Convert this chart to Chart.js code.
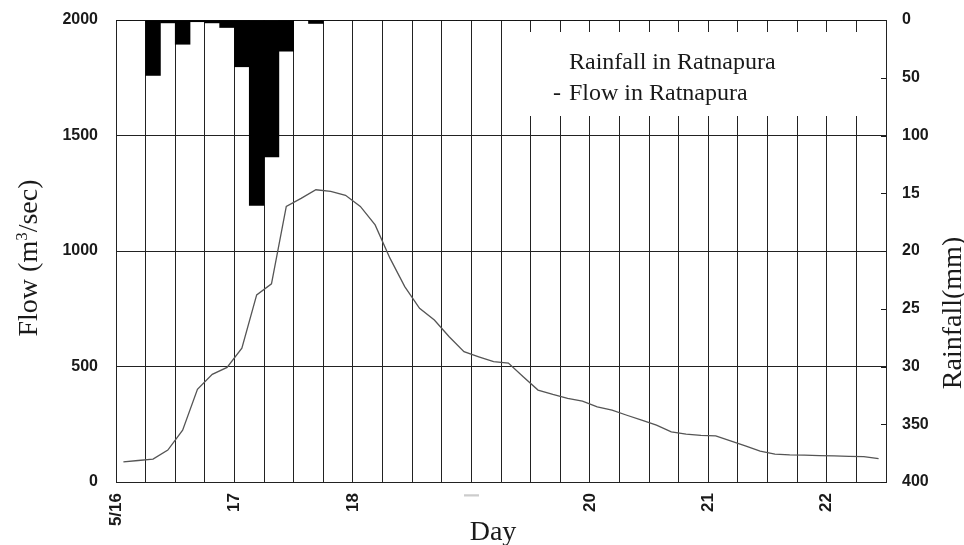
<!DOCTYPE html>
<html>

<head>
  <meta charset="UTF-8">
  <script src="https://cdn.jsdelivr.net/npm/chart.js"></script>
  <style>
    body { margin: 0; background: #fff; }
  </style>
</head>

<body>
  <canvas id="myChart" width="964" height="545"></canvas>
  <script>
    // hours after 5/16 00:00, one reading every 3 hours (centre of the interval)
    const hours = [1.5, 4.5, 7.5, 10.5, 13.5, 16.5, 19.5, 22.5, 25.5, 28.5, 31.5, 34.5, 37.5,
      40.5, 43.5, 46.5, 49.5, 52.5, 55.5, 58.5, 61.5, 64.5, 67.5, 70.5, 73.5, 76.5, 79.5,
      82.5, 85.5, 88.5, 91.5, 94.5, 97.5, 100.5, 103.5, 106.5, 109.5, 112.5, 115.5, 118.5,
      121.5, 124.5, 127.5, 130.5, 133.5, 136.5, 139.5, 142.5, 145.5, 148.5, 151.5, 154.5];
    // flow in Ratnapura (m3/sec)
    const flow = [87, 93, 99, 138, 224, 401, 466, 496, 579, 810, 858, 1193, 1228,
      1265, 1258, 1241, 1193, 1113, 969, 846, 752, 701, 629, 564, 542, 521, 515,
      456, 398, 379, 362, 350, 325, 311, 289, 268, 246, 217, 207, 202,
      200, 178, 156, 134, 121, 117, 116, 114, 113, 111, 110, 101];
    // rainfall in Ratnapura (mm per 3 hours)
    const rain = [0, 0, 48, 2.5, 21, 1.5, 2.5, 6.5, 40.5, 160.5, 118.5, 27, 0,
      3, 0, 0, 0, 0, 0, 0, 0, 0, 0, 0, 0, 0, 0,
      0, 0, 0, 0, 0, 0, 0, 0, 0, 0, 0, 0, 0,
      0, 0, 0, 0, 0, 0, 0, 0, 0, 0, 0, 0];
    const dayLabels = ['5/16', '17', '18', '|', '20', '21', '22'];
    const legendLabels = ['Rainfall in Ratnapura', 'Flow in Ratnapura'];

    const serif = '"Liberation Serif", "DejaVu Serif", serif';
    const sans = '"Liberation Sans", Arial, sans-serif';
    const ink = '#1a1a1a';

    // keep the plot area fixed: no extra room for the first/last tick label
    const noPad = s => { s.paddingTop = 0; s.paddingBottom = 0; };

    const extras = {
      id: 'extras',
      beforeDatasetsDraw(chart) {
        const ctx = chart.ctx;
        ctx.save();
        // legend box without border, hides the grid lines
        ctx.fillStyle = '#fff';
        ctx.fillRect(502, 32, 380, 84);
        ctx.fillStyle = ink;
        ctx.font = '24px ' + serif;
        ctx.textBaseline = 'alphabetic';
        ctx.fillText(legendLabels[0], 569, 69);
        ctx.fillText('-', 553, 100);
        ctx.fillText(legendLabels[1], 569, 100);
        ctx.restore();
      },
      afterDraw(chart) {
        const ctx = chart.ctx;
        const area = chart.chartArea;
        const r = chart.scales.y1;
        ctx.save();
        // short inward ticks on the rainfall axis
        ctx.strokeStyle = ink;
        ctx.lineWidth = 1;
        r.ticks.forEach(t => {
          const y = Math.round(r.getPixelForValue(t.value)) + 0.5;
          ctx.beginPath();
          ctx.moveTo(area.right - 5, y);
          ctx.lineTo(area.right, y);
          ctx.stroke();
        });

        // right title sits on a white box that clips the tick labels
        ctx.fillStyle = '#fff';
        ctx.fillRect(919, 160, 45, 240);
        ctx.fillStyle = ink;
        ctx.font = '28px ' + serif;
        ctx.textAlign = 'center';
        ctx.textBaseline = 'alphabetic';
        ctx.save();
        ctx.translate(961, 313);
        ctx.rotate(-Math.PI / 2);
        ctx.fillText('Rainfall(mm)', 0, 0);
        ctx.restore();

        // x title
        ctx.fillText('Day', 493, 540);

        // left title with superscript 3
        const a = 'Flow (m', b = '3', c = '/sec)';
        ctx.font = '28px ' + serif;
        const wa = ctx.measureText(a).width, wc = ctx.measureText(c).width;
        ctx.font = '17px ' + serif;
        const wb = ctx.measureText(b).width;
        const total = wa + wb + wc;
        ctx.save();
        ctx.translate(37, 258);
        ctx.rotate(-Math.PI / 2);
        ctx.textAlign = 'left';
        ctx.font = '28px ' + serif;
        ctx.fillText(a, -total / 2, 0);
        ctx.font = '17px ' + serif;
        ctx.fillText(b, -total / 2 + wa, -10);
        ctx.font = '28px ' + serif;
        ctx.fillText(c, -total / 2 + wa + wb, 0);
        ctx.restore();
        ctx.restore();
      }
    };

    new Chart(document.getElementById('myChart'), {
      type: 'bar',
      data: {
        datasets: [{
          type: 'line',
          label: legendLabels[1],
          data: hours.map((h, i) => ({ x: h, y: flow[i] })),
          yAxisID: 'y',
          borderColor: '#555',
          borderWidth: 1.3,
          pointRadius: 0,
          tension: 0
        },
        {
          type: 'bar',
          label: legendLabels[0],
          data: hours.map((h, i) => ({ x: h, y: rain[i] })),
          yAxisID: 'y1',
          backgroundColor: '#000',
          borderWidth: 0,
          barPercentage: 1,
          categoryPercentage: 1
        }]
      },
      options: {
        responsive: false,
        animation: false,
        devicePixelRatio: 1,
        layout: { padding: { top: 20, left: 0, right: 0, bottom: 0 } },
        plugins: {
          legend: { display: false },
          tooltip: { enabled: false }
        },
        scales: {
          x: {
            type: 'linear',
            min: 0,
            max: 156,
            offset: false,
            afterFit: s => { s.height = 63; s.paddingLeft = 0; s.paddingRight = 0; },
            grid: { color: '#222', lineWidth: 1, drawTicks: false, offset: false },
            border: { display: true, color: '#222' },
            ticks: {
              stepSize: 6,
              autoSkip: false,
              maxRotation: 90,
              minRotation: 90,
              padding: 11,
              font: { family: sans, size: 17, weight: 'bold' },
              color: c => (c.tick && c.tick.label === '|') ? '#ccc' : ink,
              callback: v => v % 24 === 0 ? dayLabels[v / 24] : ''
            }
          },
          y: {
            position: 'left',
            min: 0,
            max: 2000,
            afterFit: s => { s.width = 116; noPad(s); },
            grid: { color: '#222', lineWidth: 1, drawTicks: false },
            border: { display: true, color: '#222' },
            ticks: {
              stepSize: 500,
              padding: 18,
              font: { family: sans, size: 16, weight: 'bold' },
              color: ink,
              callback: v => String(v)
            }
          },
          y1: {
            position: 'right',
            min: 0,
            max: 400,
            reverse: true,
            afterFit: s => { s.width = 78; noPad(s); },
            grid: { drawOnChartArea: false, drawTicks: false },
            border: { display: true, color: '#222' },
            ticks: {
              stepSize: 50,
              padding: 16,
              font: { family: sans, size: 16, weight: 'bold' },
              color: ink,
              callback: v => String(v)
            }
          }
        }
      },
      plugins: [extras]
    });
  </script>
</body>

</html>
